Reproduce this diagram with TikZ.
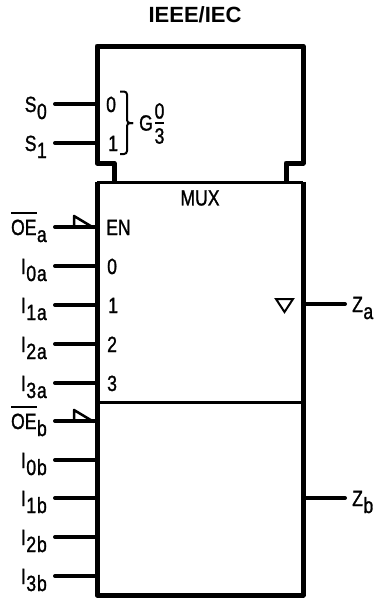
\documentclass[tikz,border=0pt]{standalone}
\usepackage{fontspec}
\setmainfont[FakeStretch=0.8,FakeBold=1.2]{Liberation Sans}
\newfontfamily\titlefont{Liberation Sans}
\newcommand{\pinsub}[2]{#1\kern0.5pt\raisebox{-7pt}{\addfontfeature{LetterSpace=4}\fontsize{22}{24}\selectfont #2}}
\newcommand{\barred}[1]{\leavevmode\setbox0=\hbox{#1}\rlap{\raisebox{21.5pt}{\rule{\wd0}{1.6pt}}}\box0}
\tikzset{
    pin/.style={line width=4pt, line cap=round},
    wall/.style={line width=5pt, line join=round},
    thinwall/.style={line width=3pt},
    sym/.style={inner sep=0pt, font=\fontsize{22}{24}\selectfont},
    pinlabel/.style={sym, anchor=base east},
    outlabel/.style={sym, anchor=base west},
    inlabel/.style={sym, anchor=base west},
}
\begin{document}
\begin{tikzpicture}[x=1pt, y=-1pt]
    \useasboundingbox (0,0) rectangle (375,598);
    \node[inner sep=0pt, font=\titlefont\bfseries\fontsize{22}{24}\selectfont] (title) at (195,15) {IEEE/IEC};

    % input pins
    \foreach \pinname/\piny/\pintext in {
        Szero/104/\pinsub{S}{0}, Sone/143/\pinsub{S}{1},
        OEa/227/\pinsub{\barred{OE}}{a},
        Izeroa/266/\pinsub{I}{0a}, Ionea/305/\pinsub{I}{1a},
        Itwoa/344/\pinsub{I}{2a}, Ithreea/383/\pinsub{I}{3a},
        OEb/421/\pinsub{\barred{OE}}{b},
        Izerob/460/\pinsub{I}{0b}, Ioneb/498/\pinsub{I}{1b},
        Itwob/537/\pinsub{I}{2b}, Ithreeb/576/\pinsub{I}{3b}}{
        \coordinate (from\pinname) at (55,\piny);
        \coordinate (to\pinname) at (97,\piny);
        \draw[pin] (from\pinname) -- (to\pinname);
        \node[pinlabel] (lab\pinname) at (47,\piny+8) {\pintext};
    }

    % active low flags
    \foreach \pinname in {OEa,OEb}{
        \draw[line width=2.5pt, line join=round] ([xshift=19pt]from\pinname) -- ++(0,-11) -- ([xshift=-3pt,yshift=-1pt]to\pinname);
    }

    % outputs
    \foreach \pinname/\piny/\pintext in {Za/304/\pinsub{Z}{a}, Zb/498/\pinsub{Z}{b}}{
        \coordinate (from\pinname) at (303,\piny);
        \coordinate (to\pinname) at (345,\piny);
        \draw[pin] (from\pinname) -- (to\pinname);
        \node[outlabel] (lab\pinname) at (352,\piny+8) {\pintext};
    }

    % control block and common block
    \draw[wall] (114,182) -- (114,163) -- (97,163) -- (97,46) -- (303,46) -- (303,163) -- (286,163) -- (286,182);
    \draw[wall] (97,182) -- (97,595) -- (303,595) -- (303,182);
    \draw[thinwall] (97,182) -- (303,182);
    \draw[thinwall] (97,402) -- (303,402);

    % select inputs
    \node[inlabel] (selzero) at (106,112) {0};
    \node[inlabel] (selone) at (108,151) {1};
    \draw[line width=2pt, rounded corners=3pt] (120,91.5) -- (127,91.5) -- (127,123) -- (133,123);
    \draw[line width=2pt, rounded corners=3pt] (120,154) -- (127,154) -- (127,123) -- (133,123);
    \node[sym] (grp) at (146,123) {G};
    \node[sym] (grpzero) at (159.5,111) {0};
    \node[sym] (grpthree) at (159.5,136) {3};
    \draw[line width=2pt] (155,122.5) -- (164,122.5);

    % inside labels
    \node[sym] (mux) at (200,198) {MUX};
    \node[inlabel] (en) at (106,235) {EN};
    \node[inlabel] (dzero) at (107,274) {0};
    \node[inlabel] (done) at (108,313) {1};
    \node[inlabel] (dtwo) at (107,352) {2};
    \node[inlabel] (dthree) at (107,391) {3};
    \draw[line width=2pt, line join=miter] (276,299) -- (293,299) -- (284.5,312) -- cycle;
\end{tikzpicture}
\end{document}
